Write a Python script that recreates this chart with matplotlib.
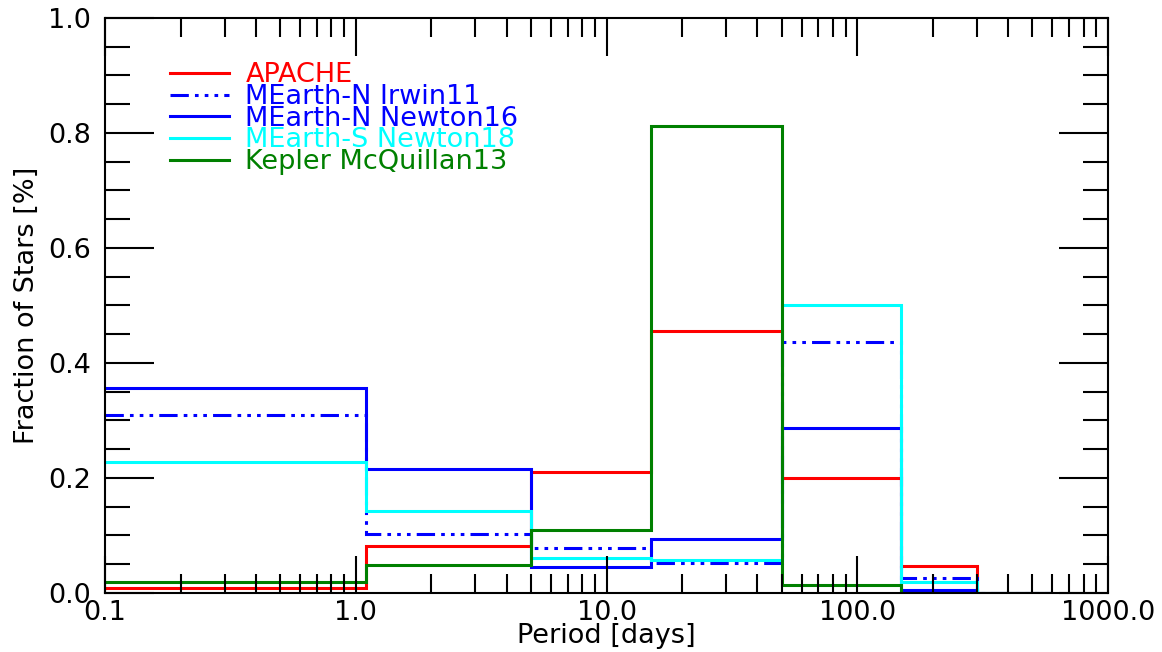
import numpy as np
import matplotlib.pyplot as plt
from matplotlib.ticker import MultipleLocator, FixedLocator, LogLocator, NullFormatter

# bin edges in days (log spaced by eye)
edges = [0.1, 1.1, 5.0, 15.0, 50.0, 150.0, 300.0, 600.0]

apache = [0.009, 0.082, 0.210, 0.456, 0.200, 0.047, 0.0]
irwin11 = [0.309, 0.103, 0.078, 0.052, 0.437, 0.026, 0.0]
newton16 = [0.357, 0.216, 0.045, 0.094, 0.287, 0.005, 0.0]
newton18 = [0.228, 0.143, 0.060, 0.057, 0.501, 0.019, 0.0]
kepler = [0.019, 0.049, 0.110, 0.812, 0.014, 0.0, 0.0]

xticks = [0.1, 1.0, 10.0, 100.0, 1000.0]
xticklabels = ['0.1', '1.0', '10.0', '100.0', '1000.0']

plt.rcParams['font.family'] = 'DejaVu Sans'
plt.rcParams['font.size'] = 19.5

fig = plt.figure(figsize=(11.62, 6.52), dpi=100)
ax = fig.add_axes([0.0904, 0.0905, 0.8631, 0.8819])

lw = 2.2
ax.stairs(apache, edges, baseline=None, color='red', lw=lw, label='APACHE')
ax.stairs(irwin11, edges, baseline=None, color='blue', lw=lw,
          linestyle=(0, (6, 2, 1.2, 2, 1.2, 2, 1.2, 2)), label='MEarth-N Irwin11')
ax.stairs(newton16, edges, baseline=None, color='blue', lw=lw, label='MEarth-N Newton16')
ax.stairs(newton18, edges, baseline=None, color='cyan', lw=lw, label='MEarth-S Newton18')
ax.stairs(kepler, edges, baseline=None, color='green', lw=lw, label='Kepler McQuillan13')

ax.set_xscale('log')
ax.set_xlim(0.1, 1000)
ax.set_ylim(0, 1.0)
ax.xaxis.set_major_locator(FixedLocator(xticks))
ax.set_xticklabels(xticklabels)
ax.xaxis.set_minor_locator(LogLocator(base=10, subs=np.arange(2, 10)))
ax.xaxis.set_minor_formatter(NullFormatter())
ax.yaxis.set_major_locator(MultipleLocator(0.2))
ax.yaxis.set_minor_locator(MultipleLocator(0.05))
ax.yaxis.set_major_formatter(plt.FormatStrFormatter('%.1f'))

ax.tick_params(which='both', direction='in', top=True, right=True, width=1.5)
ax.tick_params(axis='y', which='major', length=35, pad=10)
ax.tick_params(axis='y', which='minor', length=18)
ax.tick_params(axis='x', which='major', length=27, pad=5)
ax.tick_params(axis='x', which='minor', length=14)
for s in ax.spines.values():
    s.set_linewidth(1.5)

ax.set_xlabel('Period [days]', labelpad=-2)
ax.set_ylabel('Fraction of Stars [%]', labelpad=6)

leg = ax.legend(loc='upper left', bbox_to_anchor=(0.04, 0.965), frameon=False,
                handlelength=2.2, handletextpad=0.6, labelspacing=-0.16,
                labelcolor='linecolor', fontsize=19.5)

fig.savefig('out.png', dpi=100)
